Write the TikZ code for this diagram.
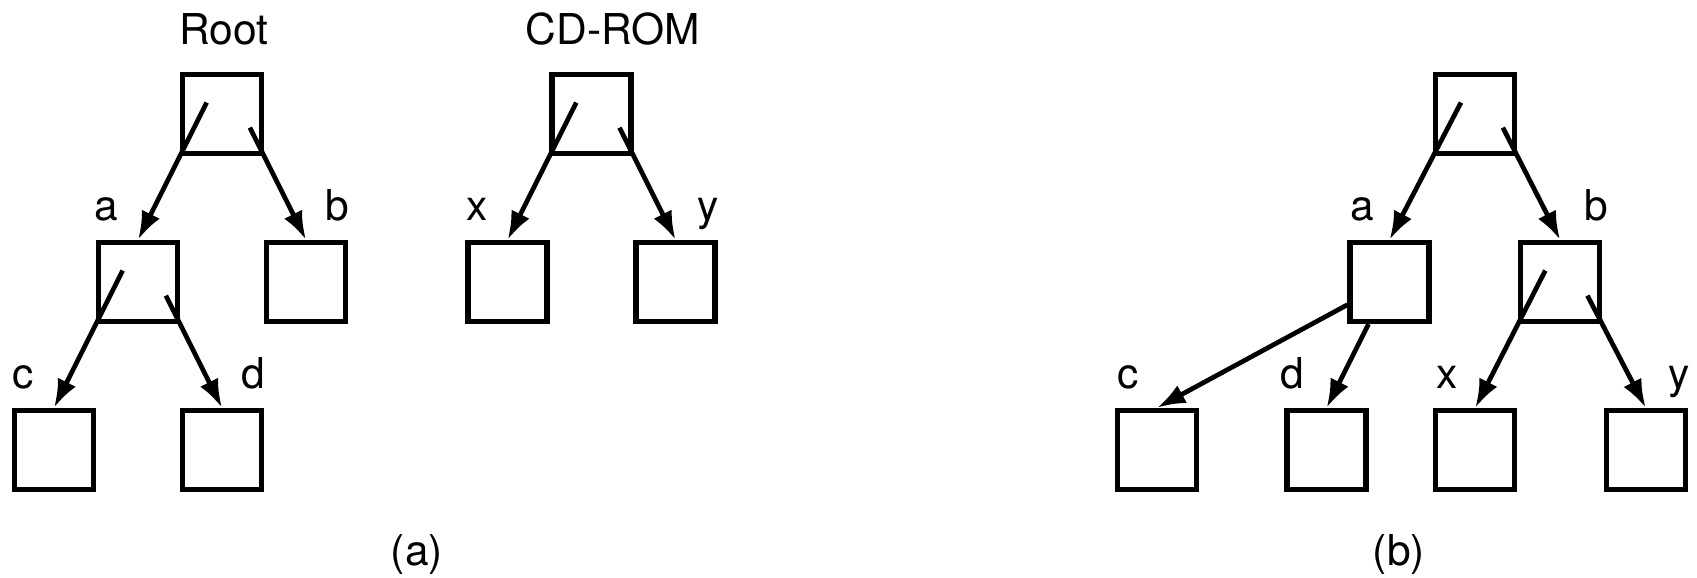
\documentclass[tikz,border=0pt]{standalone}
\usepackage{fontspec}
\setmainfont{TeX Gyre Heros}
\usetikzlibrary{arrows.meta,calc}

\begin{document}
\begin{tikzpicture}[
  box/.style={draw, line width=1.8pt, minimum size=0.94cm, inner sep=0pt},
  ptr/.style={line width=1.6pt, -{Latex[length=0.34cm,width=0.24cm]}},
  lbl/.style={anchor=base, font=\fontsize{14.4}{17}\selectfont}
]
\useasboundingbox (-0.643,-5.524) rectangle (19.56,1.357);

% (a) root and CD-ROM as two trees
\node[box] (rootL) at (2,0) {};
\node[box] (aL) at (1,-2) {};
\node[box] (bL) at (3,-2) {};
\node[box] (cL) at (0,-4) {};
\node[box] (dL) at (2,-4) {};
\node[box] (cdL) at (6.4,0) {};
\node[box] (xL) at (5.4,-2) {};
\node[box] (yL) at (7.4,-2) {};

\draw[ptr] ($(rootL.south west)!-0.64!(aL.north)$) -- (aL.north);
\draw[ptr] ($(rootL.south east)!-0.34!(bL.north)$) -- (bL.north);
\draw[ptr] ($(aL.south west)!-0.64!(cL.north)$) -- (cL.north);
\draw[ptr] ($(aL.south east)!-0.34!(dL.north)$) -- (dL.north);
\draw[ptr] ($(cdL.south west)!-0.64!(xL.north)$) -- (xL.north);
\draw[ptr] ($(cdL.south east)!-0.34!(yL.north)$) -- (yL.north);

\node[lbl] (labRoot) at (2.02,0.833) {Root};
\node[lbl] (labCD) at (6.655,0.833) {CD-ROM};
\node[lbl] (labaL) at (0.62,-1.274) {a};
\node[lbl] (labbL) at (3.37,-1.274) {b};
\node[lbl] (labcL) at (-0.37,-3.274) {c};
\node[lbl] (labdL) at (2.37,-3.274) {d};
\node[lbl] (labxL) at (5.04,-1.274) {x};
\node[lbl] (labyL) at (7.79,-1.274) {y};

% (b) CD-ROM mounted on b
\node[box] (rootR) at (16.92,0) {};
\node[box] (aR) at (15.90,-2) {};
\node[box] (bR) at (17.93,-2) {};
\node[box] (cR) at (13.13,-4) {};
\node[box] (dR) at (15.15,-4) {};
\node[box] (xR) at (16.92,-4) {};
\node[box] (yR) at (18.95,-4) {};

\draw[ptr] ($(rootR.south west)!-0.64!(aR.north)$) -- (aR.north);
\draw[ptr] ($(rootR.south east)!-0.34!(bR.north)$) -- (bR.north);
\draw[ptr] (aR) -- (cR.north);
\draw[ptr] (aR) -- (dR.north);
\draw[ptr] ($(bR.south west)!-0.64!(xR.north)$) -- (xR.north);
\draw[ptr] ($(bR.south east)!-0.34!(yR.north)$) -- (yR.north);

\node[lbl] (labaR) at (15.58,-1.274) {a};
\node[lbl] (labbR) at (18.36,-1.274) {b};
\node[lbl] (labcR) at (12.79,-3.274) {c};
\node[lbl] (labdR) at (14.74,-3.274) {d};
\node[lbl] (labxR) at (16.58,-3.274) {x};
\node[lbl] (labyR) at (19.35,-3.274) {y};

\node[lbl] (capA) at (4.32,-5.37) {(a)};
\node[lbl] (capB) at (16.01,-5.37) {(b)};
\end{tikzpicture}
\end{document}
